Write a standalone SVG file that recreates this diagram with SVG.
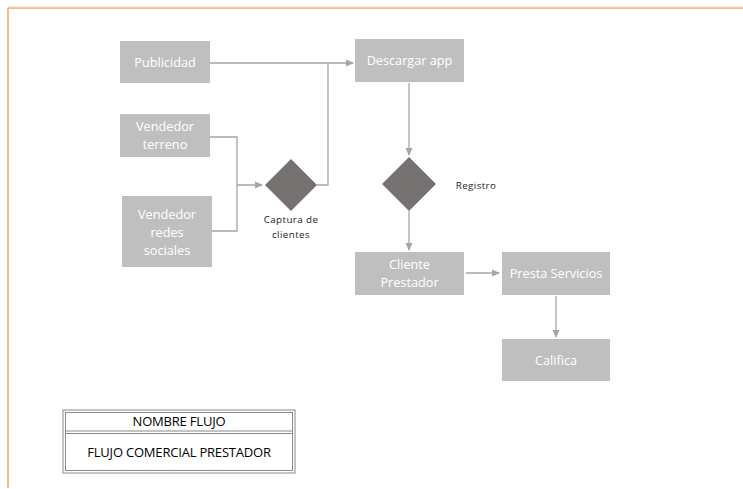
<svg xmlns="http://www.w3.org/2000/svg" width="743" height="489" viewBox="0 0 743 489">
<defs>
<style>
.box{fill:#bfbfbf}
.bt{fill:#ffffff;font-family:"Open Sans","Liberation Sans",sans-serif;font-size:12.7px;text-anchor:middle}
.dia{fill:#767171}
.lbl{fill:#1a1a1a;font-family:"Open Sans","Liberation Sans",sans-serif;font-size:9.8px;text-anchor:middle;letter-spacing:0.4px}
.con{fill:none;stroke:#a6a6a6;stroke-width:1.3}
.tt{fill:#000;font-family:"Open Sans","Liberation Sans",sans-serif;font-size:13px;text-anchor:middle;letter-spacing:-0.2px}
</style>
<marker id="ah" markerWidth="8" markerHeight="8" refX="7" refY="4" orient="auto" markerUnits="userSpaceOnUse">
<path d="M0,0.5 L8,4 L0,7.5 z" fill="#a6a6a6"/>
</marker>
</defs>
<rect width="743" height="489" fill="#ffffff"/>
<g id="frame">
<line x1="8" y1="8" x2="743" y2="8" stroke="#f4a46c" stroke-width="1.5"/>
<line x1="8" y1="7" x2="743" y2="7" stroke="#fbd3b7" stroke-width="1"/>
<line x1="8" y1="8" x2="8" y2="488" stroke="#f4a46c" stroke-width="1.5"/>
</g>
<g id="connectors">
<polyline class="con" points="210,63 353,63" marker-end="url(#ah)"/>
<polyline class="con" points="317,185 328,185 328,63"/>
<polyline class="con" points="210,137 237,137 237,185 262,185" marker-end="url(#ah)"/>
<polyline class="con" points="212,231 237,231 237,185"/>
<polyline class="con" points="409,83 409,155" marker-end="url(#ah)"/>
<polyline class="con" points="409,211 409,250" marker-end="url(#ah)"/>
<polyline class="con" points="466,273 499,273" marker-end="url(#ah)"/>
<polyline class="con" points="556,296 556,337" marker-end="url(#ah)"/>
</g>
<g id="publicidad"><rect class="box" x="120" y="41" width="90" height="42"/><text class="bt" x="165" y="67">Publicidad</text></g>
<g id="vendedor-terreno"><rect class="box" x="120" y="114" width="90" height="43"/><text class="bt" x="165" y="131">Vendedor</text><text class="bt" x="165" y="149">terreno</text></g>
<g id="vendedor-redes"><rect class="box" x="122" y="196" width="90" height="71"/><text class="bt" x="167" y="219">Vendedor</text><text class="bt" x="167" y="237">redes</text><text class="bt" x="167" y="255">sociales</text></g>
<g id="captura"><polygon class="dia" points="291,159 317,185 291,211 265,185"/><text class="lbl" x="291" y="223">Captura de</text><text class="lbl" x="291" y="238">clientes</text></g>
<g id="descargar"><rect class="box" x="355" y="39" width="109" height="43"/><text class="bt" x="409.5" y="65">Descargar app</text></g>
<g id="registro"><polygon class="dia" points="409,157 436,184 409,211 382,184"/><text class="lbl" x="476" y="189">Registro</text></g>
<g id="cliente-prestador"><rect class="box" x="355" y="252" width="109" height="43"/><text class="bt" x="409.5" y="269">Cliente</text><text class="bt" x="409.5" y="287">Prestador</text></g>
<g id="presta-servicios"><rect class="box" x="502" y="252" width="108" height="43"/><text class="bt" x="556" y="278">Presta Servicios</text></g>
<g id="califica"><rect class="box" x="502" y="339" width="108" height="42"/><text class="bt" x="556" y="365">Califica</text></g>
<g id="tabla">
<rect x="63" y="410" width="232" height="63" fill="none" stroke="#888" stroke-width="1"/>
<rect x="65.5" y="412.5" width="227" height="58" fill="none" stroke="#888" stroke-width="1"/>
<line x1="65.5" y1="431" x2="292.5" y2="431" stroke="#888" stroke-width="1"/>
<line x1="65.5" y1="433.5" x2="292.5" y2="433.5" stroke="#888" stroke-width="1"/>
<text class="tt" x="179" y="426">NOMBRE FLUJO</text>
<text class="tt" x="179" y="457">FLUJO COMERCIAL PRESTADOR</text>
</g>
</svg>
